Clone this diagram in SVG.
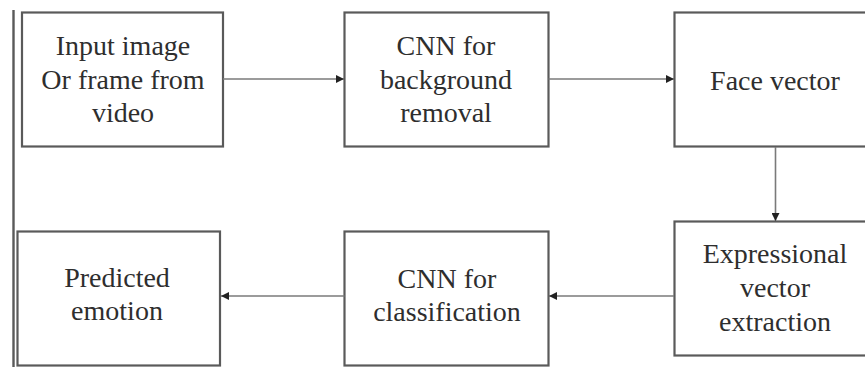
<svg xmlns="http://www.w3.org/2000/svg" width="865" height="367" viewBox="0 0 865 367">
  <style>
    .box { fill: #ffffff; stroke: #5a5a5a; stroke-width: 2.2; }
    .lbl { font-size: 28px; fill: #2e2e2e; text-anchor: middle; }
    .edge { stroke: #7a7a7a; stroke-width: 1.6; fill: none; marker-end: url(#head); }
  </style>
  <defs>
    <marker id="head" viewBox="0 0 10 10" refX="10" refY="5" markerWidth="9" markerHeight="8" markerUnits="userSpaceOnUse" orient="auto">
      <path d="M0,0 L10,5 L0,10 z" fill="#222"/>
    </marker>
  </defs>

  <rect width="865" height="367" fill="#ffffff"/>

  <!-- left margin rule -->
  <line x1="13.5" y1="10" x2="13.5" y2="367" stroke="#5a5a5a" stroke-width="2.4"/>

  <g font-family="Liberation Serif, Tinos, DejaVu Serif, serif">
  <g id="input">
    <rect class="box" x="22" y="12.5" width="201" height="134"/>
    <text class="lbl" x="123" y="55">Input image</text>
    <text class="lbl" x="123" y="89">Or frame from</text>
    <text class="lbl" x="123" y="122">video</text>
  </g>

  <g id="cnn-bg">
    <rect class="box" x="344.5" y="12.5" width="204" height="134"/>
    <text class="lbl" x="446" y="55">CNN for</text>
    <text class="lbl" x="446" y="89">background</text>
    <text class="lbl" x="446" y="122">removal</text>
  </g>

  <g id="face">
    <rect class="box" x="674.5" y="12.5" width="200" height="134"/>
    <text class="lbl" x="775" y="90">Face vector</text>
  </g>

  <g id="expr">
    <rect class="box" x="674.5" y="221.5" width="200" height="134"/>
    <text class="lbl" x="775" y="263">Expressional</text>
    <text class="lbl" x="775" y="297">vector</text>
    <text class="lbl" x="775" y="331">extraction</text>
  </g>

  <g id="cnn-cls">
    <rect class="box" x="344.5" y="231.5" width="204" height="134"/>
    <text class="lbl" x="447" y="288">CNN for</text>
    <text class="lbl" x="447" y="321">classification</text>
  </g>

  <g id="predicted">
    <rect class="box" x="17.5" y="231.5" width="202.5" height="134"/>
    <text class="lbl" x="117" y="287">Predicted</text>
    <text class="lbl" x="117" y="320">emotion</text>
  </g>
  </g>

  <g id="connectors">
    <line class="edge" x1="223" y1="79" x2="344" y2="79"/>
    <line class="edge" x1="548.5" y1="79" x2="674" y2="79"/>
    <line class="edge" x1="775.5" y1="147" x2="775.5" y2="221"/>
    <line class="edge" x1="674" y1="296" x2="549" y2="296"/>
    <line class="edge" x1="344.5" y1="296" x2="221" y2="296"/>
  </g>
</svg>
